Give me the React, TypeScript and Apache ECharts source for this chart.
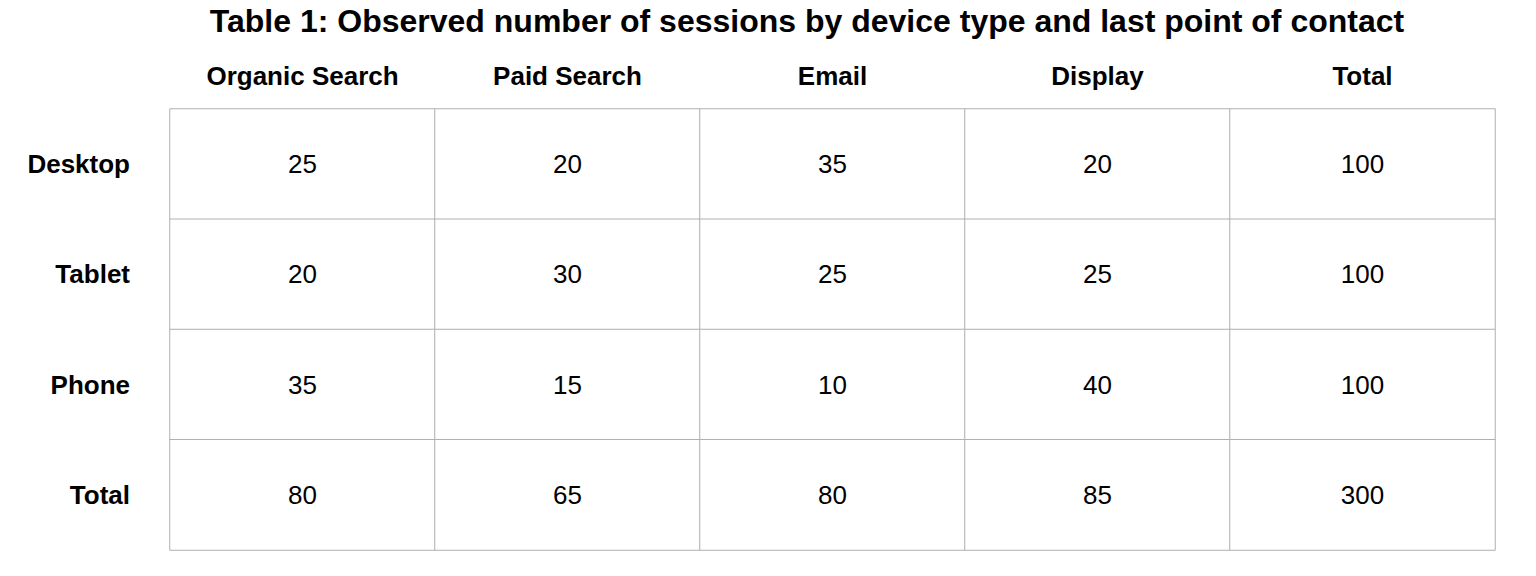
import React, { useEffect, useRef } from "react";
import * as echarts from "echarts";

const columns = ["Organic Search", "Paid Search", "Email", "Display", "Total"];
const rows = ["Desktop", "Tablet", "Phone", "Total"];
const desktop = [25, 20, 35, 20, 100];
const tablet = [20, 30, 25, 25, 100];
const phone = [35, 15, 10, 40, 100];
const totals = [80, 65, 80, 85, 300];

export default function App() {
  const ref = useRef<HTMLDivElement>(null);
  useEffect(() => {
    document.body.style.margin = "0";
    const chart = echarts.init(ref.current!, null, { renderer: "svg" });
    const table = [desktop, tablet, phone, totals];
    const data: number[][] = [];
    table.forEach((r, ri) => r.forEach((v, ci) => data.push([ci, ri, v])));
    const font = "'Liberation Sans', Arial, sans-serif";
    chart.setOption({
      animation: false,
      backgroundColor: "#ffffff",
      textStyle: { fontFamily: font },
      title: {
        text: "Table 1: Observed number of sessions by device type and last point of contact",
        left: 802,
        textAlign: "center",
        top: 0,
        textStyle: { fontSize: 32, fontWeight: "bold", color: "#000", fontFamily: font },
      },
      visualMap: {
        show: false,
        min: 0,
        max: 300,
        dimension: 2,
        inRange: { color: ["#ffffff", "#ffffff"] },
      },
      grid: { left: 170, right: 41, top: 109, bottom: 26 },
      xAxis: {
        type: "category",
        data: columns,
        position: "top",
        axisLine: { show: false },
        axisTick: { show: false },
        splitLine: { show: false },
        axisLabel: { fontSize: 26, fontWeight: "bold", color: "#000", margin: 20, fontFamily: font },
      },
      yAxis: {
        type: "category",
        data: rows,
        inverse: true,
        axisLine: { show: false },
        axisTick: { show: false },
        splitLine: { show: false },
        axisLabel: { fontSize: 26, fontWeight: "bold", color: "#000", margin: 40, fontFamily: font },
      },
      series: [
        {
          type: "heatmap",
          data,
          itemStyle: { borderColor: "#b0b0b0", borderWidth: 1 },
          label: {
            show: true,
            formatter: (p: any) => String(p.value[2]),
            fontSize: 26,
            color: "#000",
            fontFamily: font,
          },
          emphasis: { disabled: true },
        },
      ],
    });
    return () => chart.dispose();
  }, []);
  return <div ref={ref} style={{ width: 1536, height: 576 }} />;
}
